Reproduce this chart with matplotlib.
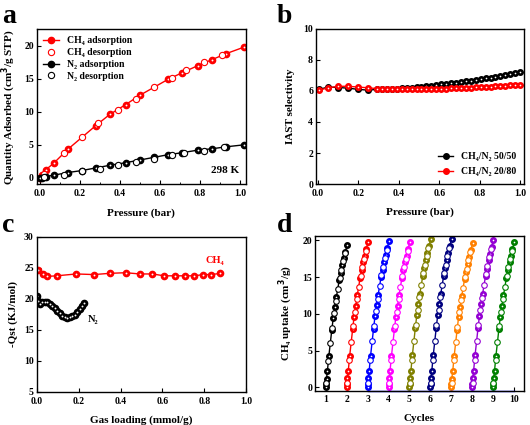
import matplotlib
matplotlib.use("Agg")
import matplotlib.pyplot as plt
from matplotlib.ticker import MultipleLocator

# ---------------- data ----------------
# (a) isotherms at 298 K
ch4_ads_p = [0.0, 0.01, 0.03, 0.07, 0.14, 0.28, 0.35, 0.43, 0.50, 0.64, 0.71, 0.79, 0.86, 0.93, 1.02]
ch4_ads_q = [0.0, 0.4, 1.2, 2.2, 4.3, 7.9, 9.6, 11.1, 12.5, 14.9, 15.9, 17.0, 17.9, 18.8, 19.8]
ch4_des_p = [0.91, 0.82, 0.73, 0.66, 0.57, 0.48, 0.39, 0.29, 0.21, 0.12, 0.02]
ch4_des_q = [18.6, 17.5, 16.3, 15.2, 13.7, 12.0, 10.3, 8.3, 6.2, 3.7, 0.6]
n2_ads_p = [0.0, 0.01, 0.03, 0.07, 0.14, 0.21, 0.28, 0.35, 0.43, 0.50, 0.57, 0.64, 0.71, 0.79, 0.86, 0.93, 1.02]
n2_ads_q = [0.0, 0.05, 0.2, 0.4, 0.8, 1.1, 1.5, 1.9, 2.3, 2.7, 3.1, 3.5, 3.8, 4.2, 4.4, 4.7, 5.0]
n2_des_p = [0.92, 0.82, 0.72, 0.66, 0.57, 0.48, 0.39, 0.30, 0.21, 0.12, 0.02]
n2_des_q = [4.6, 4.1, 3.7, 3.4, 2.9, 2.4, 1.9, 1.4, 1.0, 0.5, 0.1]

# (b) IAST selectivity
iast_p = [0.006, 0.05, 0.10, 0.15, 0.20, 0.25, 0.293, 0.317, 0.342, 0.366, 0.39, 0.415, 0.439,
          0.463, 0.488, 0.512, 0.537, 0.561, 0.585, 0.61, 0.634, 0.659, 0.683, 0.707, 0.732,
          0.756, 0.78, 0.805, 0.829, 0.854, 0.878, 0.902, 0.927, 0.951, 0.976, 1.0]
sel_5050 = [6.10, 6.25, 6.22, 6.18, 6.10, 6.05, 6.10, 6.11, 6.12, 6.13, 6.15, 6.17, 6.19,
            6.22, 6.25, 6.28, 6.31, 6.35, 6.38, 6.42, 6.46, 6.50, 6.54, 6.58, 6.62,
            6.67, 6.71, 6.76, 6.81, 6.86, 6.91, 6.96, 7.02, 7.08, 7.14, 7.20]
sel_2080 = [6.05, 6.20, 6.30, 6.30, 6.25, 6.20, 6.15, 6.14, 6.13, 6.12, 6.12, 6.11, 6.11,
            6.11, 6.11, 6.11, 6.12, 6.12, 6.13, 6.14, 6.15, 6.16, 6.17, 6.18, 6.20,
            6.21, 6.23, 6.24, 6.26, 6.28, 6.30, 6.32, 6.34, 6.36, 6.38, 6.40]

# (c) isosteric heat
qst_ch4_n = [0.008, 0.029, 0.048, 0.095, 0.19, 0.273, 0.349, 0.424, 0.492, 0.552, 0.608,
             0.66, 0.708, 0.752, 0.793, 0.833, 0.876]
qst_ch4 = [24.6, 24.0, 23.6, 23.7, 24.0, 23.9, 24.1, 24.2, 24.0, 24.0, 23.7,
           23.7, 23.7, 23.7, 23.9, 23.9, 24.1]
qst_n2_n = [0.002, 0.006, 0.014, 0.026, 0.038, 0.05, 0.062, 0.074, 0.086, 0.098, 0.11,
            0.122, 0.134, 0.146, 0.158, 0.17, 0.182, 0.194, 0.206, 0.218, 0.228]
qst_n2 = [20.4, 19.7, 19.1, 19.5, 19.5, 19.4, 19.2, 18.9, 18.5, 18.1, 17.7,
          17.3, 17.0, 16.9, 17.0, 17.2, 17.4, 17.8, 18.3, 18.8, 19.3]

# (d) cycling, one CH4 isotherm per cycle
cycles = [1, 2, 3, 4, 5, 6, 7, 8, 9]
cycle_max = [19.4, 19.8, 19.9, 19.8, 20.2, 20.2, 19.6, 20.1, 19.8]
cycle_colors = ['black', 'red', 'blue', 'magenta', '#808000', '#000080', '#ff8000', '#9400d3', '#008000']

# ---------------- style ----------------
plt.rcParams['font.family'] = ['Liberation Serif', 'DejaVu Serif']
plt.rcParams['font.weight'] = 'bold'
plt.rcParams['axes.labelweight'] = 'bold'
plt.rcParams['axes.linewidth'] = 1.0
plt.rcParams['xtick.direction'] = 'in'
plt.rcParams['ytick.direction'] = 'in'
plt.rcParams['xtick.labelsize'] = 7
plt.rcParams['ytick.labelsize'] = 7


def ball(ax, x, y, color, ms=4.5, line=True, label=None):
    # filled marker with a little white highlight (3D ball look)
    ax.plot(x, y, '-' if line else 'none', color=color, lw=1.0, marker='o', ms=ms,
            mfc=color, mec=color, label=label)
    ax.plot(x, y, 'none', marker='o', ms=ms * 0.3, mfc='white', mec='none')


def hollow(ax, x, y, color, ms=4.5, label=None):
    ax.plot(x, y, 'none', marker='o', ms=ms, mfc='white', mec=color, mew=0.8, label=label)


def ticks(ax):
    ax.tick_params(which='major', length=3, width=0.8, pad=2)
    ax.tick_params(axis='x', which='major', pad=3.5)
    ax.tick_params(which='minor', length=1.5, width=0.6)


fig = plt.figure(figsize=(5.3, 4.25), dpi=100)

# ---------------- (a) ----------------
ax1 = fig.add_axes([0.069, 0.566, 0.395, 0.365])
ball(ax1, ch4_ads_p, ch4_ads_q, 'red', label='CH₄ adsorption')
hollow(ax1, ch4_des_p, ch4_des_q, 'red', label='CH₄ desorption')
ball(ax1, n2_ads_p, n2_ads_q, 'black', label='N₂ adsorption')
hollow(ax1, n2_des_p, n2_des_q, 'black', label='N₂ desorption')
ax1.set_xlim(-0.015, 1.03)
ax1.set_ylim(-1, 22.5)
ax1.xaxis.set_major_locator(MultipleLocator(0.2))
ax1.xaxis.set_minor_locator(MultipleLocator(0.1))
ax1.yaxis.set_major_locator(MultipleLocator(5))
ax1.set_xlabel('Pressure (bar)', fontsize=8, labelpad=7)
ax1.set_ylabel('Quantity Adsorbed (cm$^\\mathbf{3}$/g STP)', fontsize=8, labelpad=4)
ax1.text(0.97, 0.06, '298 K', transform=ax1.transAxes, ha='right', va='bottom', fontsize=8)
ax1.legend(loc='upper left', frameon=False, fontsize=7, handlelength=1.6,
           labelspacing=0.3, borderaxespad=0.3)
ticks(ax1)

# ---------------- (b) ----------------
ax2 = fig.add_axes([0.596, 0.567, 0.393, 0.365])
ball(ax2, iast_p, sel_5050, 'black', ms=4, label='CH₄/N₂ 50/50')
ball(ax2, iast_p, sel_2080, 'red', ms=4, label='CH₄/N₂ 20/80')
ax2.set_xlim(-0.01, 1.02)
ax2.set_ylim(0, 10)
ax2.xaxis.set_major_locator(MultipleLocator(0.2))
ax2.yaxis.set_major_locator(MultipleLocator(2))
ax2.set_xlabel('Pressure (bar)', fontsize=8, labelpad=7)
ax2.set_ylabel('IAST selectivity', fontsize=8, labelpad=6)
ax2.legend(loc='lower right', frameon=False, fontsize=7, handlelength=1.6,
           labelspacing=0.6, borderaxespad=0.4)
ticks(ax2)

# ---------------- (c) ----------------
ax3 = fig.add_axes([0.069, 0.078, 0.396, 0.365])
ball(ax3, qst_ch4_n, qst_ch4, 'red')
ball(ax3, qst_n2_n, qst_n2, 'black', line=False)
ax3.set_xlim(0, 1.0)
ax3.set_ylim(5, 30)
ax3.xaxis.set_major_locator(MultipleLocator(0.2))
ax3.yaxis.set_major_locator(MultipleLocator(5))
ax3.set_xlabel('Gas loading (mmol/g)', fontsize=8, labelpad=7)
ax3.set_ylabel('-Qst (KJ/mol)', fontsize=8, labelpad=4)
ax3.text(0.85, 25.4, 'CH₄', color='red', fontsize=7.5, ha='center', va='bottom')
ax3.text(0.245, 16.6, 'N₂', color='black', fontsize=7.5, ha='left', va='center')
ticks(ax3)

# ---------------- (d) ----------------
ax4 = fig.add_axes([0.594, 0.081, 0.395, 0.364])
for c, m, col in zip(cycles, cycle_max, cycle_colors):
    k = m / ch4_ads_q[-1]
    ball(ax4, [c + p for p in ch4_ads_p], [q * k for q in ch4_ads_q], col, ms=4)
    hollow(ax4, [c + p for p in ch4_des_p], [q * k for q in ch4_des_q], col, ms=4)
ax4.plot([3, 10], [-0.45, -0.45], color='blue', lw=1.0, clip_on=False)
ax4.set_xlim(0.47, 10.49)
ax4.set_ylim(-0.45, 20.6)
ax4.xaxis.set_major_locator(MultipleLocator(1))
ax4.yaxis.set_major_locator(MultipleLocator(5))
ax4.set_xlabel('Cycles', fontsize=8, labelpad=7)
ax4.set_ylabel('CH₄ uptake (cm$^\\mathbf{3}$/g)', fontsize=8, labelpad=5)
ticks(ax4)

# panel letters
for x, y, s in [(0.004, 0.945, 'a'), (0.522, 0.945, 'b'), (0.004, 0.455, 'c'), (0.522, 0.455, 'd')]:
    fig.text(x, y, s, fontsize=20, fontweight='bold')

fig.savefig('out.png', dpi=100)
